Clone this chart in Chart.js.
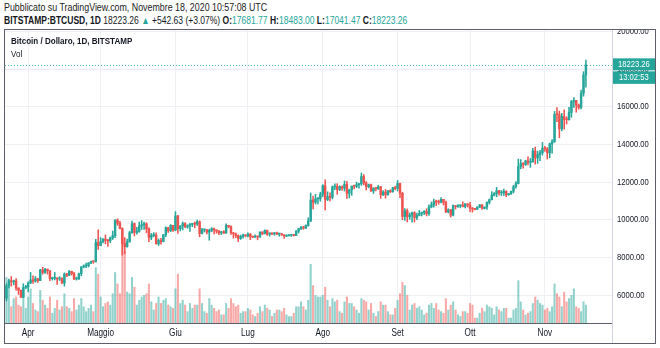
<!DOCTYPE html>
<html>
<head>
<meta charset="utf-8">
<title>BTCUSD 1D</title>
<script src="https://cdn.jsdelivr.net/npm/chart.js@4.4.0/dist/chart.umd.min.js"></script>
<style>
  body {
    margin: 0; width: 660px; height: 348px; background: #fff;
    position: relative; overflow: hidden; color: #131722;
    font-family: 'Liberation Sans', Arial, sans-serif;
  }
  /* narrow lettering, like the terminal font */
  .narrow { position: absolute; white-space: nowrap; transform: scaleX(0.82); transform-origin: 0 0; }
  .head1 { left: 4px; top: 1px; font-size: 10.8px; color: #222; }
  .head2 { left: 4px; top: 15px; font-size: 10.4px; }
  .up { color: #26a69a; }
  #frame { position: absolute; left: 4px; top: 29px; width: 650px; height: 313px; border: 1px solid #5d606b; }
  #wrap { position: absolute; left: 5px; top: 30px; width: 650px; height: 313px; }
  .sep { position: absolute; left: 612px; top: 30px; width: 1px; height: 313px; background: #d1d4dc; }
  .title { left: 11px; top: 35px; font-size: 9.8px; font-weight: bold; z-index: 2; }
  .vol { left: 11px; top: 48px; font-size: 9.8px; z-index: 2; }
</style>
</head>
<body>
<div class="narrow head1">Pubblicato su TradingView.com, Novembre 18, 2020 10:57:08 UTC</div>
<div class="narrow head2"><b>BITSTAMP:BTCUSD, 1D</b> 18223.26 <span class="up">&#9650;</span> +542.63 (+3.07%) <b>O:</b><span class="up">17681.77</span> <b>H:</b><span class="up">18483.00</span> <b>L:</b><span class="up">17041.47</span> <b>C:</b><span class="up">18223.26</span></div>
<div id="frame"></div>
<div id="wrap"><canvas id="btc-chart" width="650" height="313"></canvas></div>
<div class="sep"></div>
<div class="narrow title">Bitcoin / Dollaro, 1D, BITSTAMP</div>
<div class="narrow vol">Vol</div>

<script>
// first candle is 23 Mar, days counted from 1 Apr
const firstDay = -9;

const opens = [
  5830, 6480, 6760, 6700, 6750, 6370, 6250, 5880, 6400,
  6420, 6640, 6800, 6740, 6860, 6770, 7330, 7200, 7370, 7290, 6870, 6890, 6910, 6850, 6860, 6630, 7110, 7040, 7260, 7130, 6850, 6850, 7130, 7500, 7540, 7550, 7700, 7780, 7770, 8790,
  8620, 8830, 8970, 8900, 8880, 9030, 9150, 9980, 9810, 9540, 8730, 8570, 8820, 9310, 9790, 9320, 9380, 9670, 9730, 9780, 9510, 9060, 9170, 9180, 8720, 8900, 8840, 9200, 9570, 9420, 9700,
  9450, 10200, 9520, 9660, 9790, 9620, 9670, 9750, 9780, 9770, 9890, 9270, 9460, 9470, 9340, 9430, 9520, 9450, 9390, 9300, 9360, 9290, 9690, 9630, 9300, 9250, 9160, 9000, 9110, 9190,
  9140, 9230, 9090, 9070, 9130, 9080, 9340, 9250, 9430, 9230, 9290, 9240, 9300, 9240, 9250, 9190, 9130, 9150, 9170, 9210, 9160, 9390, 9530, 9610, 9550, 9700, 9930, 11040, 10930, 11100, 11110,
  11350, 11800, 11070, 11230, 11190, 11740, 11770, 11600, 11760, 11680, 11880, 11400, 11580, 11780, 11770, 11860, 11910, 12290, 11960, 11750, 11860, 11520, 11680, 11650, 11750, 11330, 11470, 11320, 11540, 11480, 11700,
  11660, 11920, 11400, 10170, 10470, 10160, 10250, 10370, 10120, 10230, 10340, 10390, 10440, 10320, 10680, 10790, 10950, 10940, 10930, 11080, 10920, 10420, 10530, 10240, 10740, 10690, 10730, 10770, 10700, 10840,
  10780, 10620, 10570, 10550, 10670, 10790, 10600, 10670, 10920, 11060, 11300, 11380, 11540, 11420, 11430, 11500, 11320, 11370, 11510, 11750, 11920, 12820, 12980, 12930, 13120, 13040, 13070, 13650, 13280, 13460, 13560,
  13800, 13760, 13550, 14030, 14150, 15590, 15580, 14830, 15480, 15330, 15310, 15700, 16280, 16330, 16080, 15960, 16720, 17681.77
];
const highs = [
  6600, 6840, 6980, 6790, 6870, 6380, 6260, 6600, 6520,
  6700, 7200, 7020, 6980, 6880, 7370, 7470, 7420, 7380, 7300, 6950, 7200, 6910, 6980, 6930, 7180, 7150, 7300, 7260, 7210, 6950, 7160, 7500, 7600, 7700, 7720, 7800, 7800, 8960, 9460,
  9050, 9000, 9190, 8950, 9080, 9400, 9990, 10050, 9910, 9570, 9050, 8970, 9380, 9930, 9830, 9590, 9880, 9950, 9870, 9840, 9570, 9270, 9310, 9300, 8980, 9010, 9210, 9620, 9600, 9740, 9700,
  10430, 10230, 9690, 9880, 9850, 9730, 9800, 9800, 9880, 9980, 9940, 9540, 9500, 9480, 9500, 9580, 9550, 9470, 9440, 9390, 9420, 9780, 9700, 9670, 9330, 9290, 9190, 9180, 9230, 9200,
  9300, 9270, 9130, 9190, 9140, 9360, 9370, 9460, 9450, 9310, 9300, 9330, 9340, 9280, 9270, 9210, 9190, 9190, 9230, 9220, 9420, 9540, 9640, 9650, 9730, 10100, 11420, 11260, 11350, 11170, 11460,
  11860, 12120, 11480, 11420, 11790, 11900, 11910, 11800, 11800, 12060, 12040, 11620, 11790, 11840, 11990, 11930, 12480, 12400, 12020, 11890, 11890, 11690, 11710, 11820, 11770, 11540, 11600, 11550, 11590, 11720, 11780,
  12080, 11950, 11460, 10590, 10570, 10350, 10400, 10420, 10350, 10500, 10410, 10480, 10580, 10790, 10940, 11100, 11040, 11040, 11180, 11080, 10990, 10580, 10540, 10790, 10760, 10800, 10800, 10950, 10860, 10850,
  10920, 10650, 10600, 10690, 10800, 10800, 10680, 10950, 11100, 11490, 11440, 11720, 11560, 11550, 11630, 11540, 11400, 11520, 11820, 12030, 13220, 13190, 13030, 13160, 13340, 13250, 13790, 13860, 13640, 13680, 14100,
  13900, 13830, 14070, 14250, 15750, 15960, 15770, 15650, 15840, 15470, 15970, 16340, 16480, 16340, 16140, 16880, 17860, 18483
];
const lows = [
  5690, 6380, 6470, 6540, 6260, 6030, 5870, 5860, 6330,
  6160, 6600, 6610, 6680, 6670, 6770, 7100, 7150, 7110, 6760, 6790, 6800, 6560, 6770, 6620, 6470, 6980, 7030, 7060, 6810, 6790, 6830, 7020, 7440, 7450, 7490, 7660, 7680, 7740, 8420,
  8620, 8770, 8720, 8580, 8780, 8950, 9050, 9700, 9510, 8120, 8200, 8540, 8810, 9270, 9140, 9230, 9330, 9480, 9480, 9300, 8830, 8940, 9090, 8700, 8630, 8700, 8820, 9100, 9330, 9360, 9380,
  9410, 9270, 9400, 9460, 9580, 9540, 9380, 9630, 9570, 9700, 9090, 9240, 9350, 9250, 8910, 9360, 9240, 9280, 9200, 9210, 9270, 9280, 9570, 9220, 9020, 9040, 8840, 8950, 9020, 9090,
  9090, 8940, 9040, 9060, 8930, 9060, 9200, 9240, 9160, 9120, 9200, 9170, 9200, 9120, 9170, 9010, 9100, 9120, 9110, 9130, 9150, 9290, 9470, 9490, 9520, 9650, 9900, 10570, 10830, 10840, 10980,
  11220, 10520, 11010, 11000, 11100, 11590, 11350, 11540, 11560, 11520, 11130, 11160, 11290, 11630, 11700, 11680, 11820, 11850, 11580, 11690, 11500, 11390, 11530, 11600, 11130, 11270, 11140, 11300, 11440, 11460, 11580,
  11520, 11170, 10000, 9960, 9880, 10020, 9870, 9880, 10000, 10200, 10200, 10270, 10200, 10220, 10630, 10670, 10740, 10820, 10890, 10780, 10370, 10360, 10140, 10200, 10560, 10650, 10630, 10680, 10630, 10670,
  10430, 10400, 10520, 10540, 10630, 10540, 10570, 10540, 10830, 11050, 11260, 11220, 11300, 11280, 11290, 11220, 11300, 11340, 11420, 11680, 11900, 12700, 12740, 12880, 12910, 12780, 13060, 12950, 12990, 13130, 13430,
  13620, 13220, 13290, 13530, 14100, 15200, 14350, 14720, 14810, 15080, 15290, 15440, 15960, 15710, 15870, 15880, 16560, 17041.47
];
const closes = [
  6480, 6760, 6700, 6750, 6370, 6250, 5880, 6400, 6420,
  6640, 6800, 6740, 6860, 6770, 7330, 7200, 7370, 7290, 6870, 6890, 6910, 6850, 6860, 6630, 7110, 7040, 7260, 7130, 6850, 6850, 7130, 7500, 7540, 7550, 7700, 7780, 7770, 8790, 8620,
  8830, 8970, 8900, 8880, 9030, 9150, 9980, 9810, 9540, 8730, 8570, 8820, 9310, 9790, 9320, 9380, 9670, 9730, 9780, 9510, 9060, 9170, 9180, 8720, 8900, 8840, 9200, 9570, 9420, 9700, 9450,
  10200, 9520, 9660, 9790, 9620, 9670, 9750, 9780, 9770, 9890, 9270, 9460, 9470, 9340, 9430, 9520, 9450, 9390, 9300, 9360, 9290, 9690, 9630, 9300, 9250, 9160, 9000, 9110, 9190, 9140,
  9230, 9090, 9070, 9130, 9080, 9340, 9250, 9430, 9230, 9290, 9240, 9300, 9240, 9250, 9190, 9130, 9150, 9170, 9210, 9160, 9390, 9530, 9610, 9550, 9700, 9930, 11040, 10930, 11100, 11110, 11350,
  11800, 11070, 11230, 11190, 11740, 11770, 11600, 11760, 11680, 11880, 11400, 11580, 11780, 11770, 11860, 11910, 12290, 11960, 11750, 11860, 11520, 11680, 11650, 11750, 11330, 11470, 11320, 11540, 11480, 11700, 11660,
  11920, 11400, 10170, 10470, 10160, 10250, 10370, 10120, 10230, 10340, 10390, 10440, 10320, 10680, 10790, 10950, 10940, 10930, 11080, 10920, 10420, 10530, 10240, 10740, 10690, 10730, 10770, 10700, 10840, 10780,
  10620, 10570, 10550, 10670, 10790, 10600, 10670, 10920, 11060, 11300, 11380, 11540, 11420, 11430, 11500, 11320, 11370, 11510, 11750, 11920, 12820, 12980, 12930, 13120, 13040, 13070, 13650, 13280, 13460, 13560, 13800,
  13760, 13550, 14030, 14150, 15590, 15580, 14830, 15480, 15330, 15310, 15700, 16280, 16330, 16080, 15960, 16720, 17681.77, 18223.26
];
// volume, thousand BTC
const volumes = [
  14, 11, 5, 7.5, 8, 5.5, 5, 10, 4.5,
  8, 10.5, 6, 4, 3.5, 10, 7, 5.5, 4.5, 8, 3, 4.5, 7, 4, 5, 9, 5, 4.5, 3.5, 7.5, 4, 5.5, 7.5, 5, 3.5, 4.5, 5.5, 3.5, 17, 15,
  8, 5, 6, 6.5, 5.5, 9, 15.5, 12, 9, 26, 22, 9.5, 9, 14, 11, 5.5, 7, 8, 8.5, 9, 12, 6.5, 4, 6, 8, 6, 7, 7.5, 5.5, 5, 4.5,
  10.5, 15, 6, 7, 5.5, 3.5, 6, 4.5, 5.5, 5.5, 10.5, 6, 3.5, 3, 7.5, 5.5, 4.5, 3.5, 4, 2.5, 2.5, 6, 4.5, 7.5, 6, 5, 5.5, 3, 3.5, 3.5,
  4.5, 4, 2.5, 2, 3, 5, 3.5, 5.5, 4.5, 4, 2, 3, 4, 4, 3.5, 4.5, 2.5, 2, 2, 3, 5, 5, 6.5, 5, 4, 7, 18, 11.5, 8.5, 8, 8,
  8.5, 11, 7, 5, 7.5, 6.5, 7, 3.5, 3, 6.5, 8, 6, 6, 5, 4, 3, 7.5, 7, 6.5, 4, 6, 3, 2, 3.5, 6.5, 5.5, 5.5, 3.5, 2.5, 2.5, 4.5,
  7, 9, 12.5, 11.5, 8.5, 4, 5.5, 6, 4.5, 5, 4, 2.5, 3, 5.5, 6, 4.5, 6, 4, 3.5, 3, 7.5, 4, 5.5, 6.5, 4, 2.5, 2, 3.5, 3.5, 3,
  6, 5.5, 1.5, 1.5, 3, 4.5, 3.5, 5.5, 5, 4.5, 2.5, 5, 4, 3.5, 4.5, 4.5, 1.5, 1.5, 4, 4.5, 13, 6.5, 4, 2.5, 3, 3.5, 6, 8, 7, 6, 5.5,
  4, 4.5, 3.5, 5, 12, 9, 8, 5, 9.5, 6.5, 7.5, 8.5, 10.5, 5, 4.5, 3.5, 6.5, 5.5
];

const monthStarts = [0, 30, 61, 91, 122, 153, 183, 214];
const monthNames = ['Apr', 'Maggio', 'Giu', 'Lug', 'Ago', 'Set', 'Ott', 'Nov'];
const priceTicks = [6000, 8000, 10000, 12000, 14000, 16000, 18000, 20000];
const lastPrice = 18223.26;
const countdown = '13:02:53';

const upColor = '#26a69a';
const downColor = '#ef5350';
const upVol = 'rgba(38,166,154,0.5)';
const downVol = 'rgba(239,83,80,0.5)';
const fontFamily = "'Liberation Sans', Arial, sans-serif";

const isUp = closes.map((c, i) => c >= opens[i]);
const candleColors = isUp.map(u => u ? upColor : downColor);
const volColors = isUp.map(u => u ? upVol : downVol);

const wickData = highs.map((h, i) => ({ x: firstDay + i, y: [lows[i], h] }));
const bodyData = closes.map((c, i) => ({ x: firstDay + i, y: [opens[i], c] }));
const volData = volumes.map((v, i) => ({ x: firstDay + i, y: v }));

// dotted last-price line and the price / countdown tags on the axis
const lastPriceTag = {
  id: 'lastPriceTag',
  afterDraw(chart) {
    const { ctx, chartArea, scales } = chart;
    const y = scales.y.getPixelForValue(lastPrice);
    const ly = Math.round(y) + 0.5;
    ctx.save();
    ctx.strokeStyle = 'rgba(38,166,154,0.8)';
    ctx.lineWidth = 1;
    ctx.setLineDash([1, 2]);
    ctx.beginPath();
    ctx.moveTo(chartArea.left, ly);
    ctx.lineTo(chartArea.right, ly);
    ctx.stroke();
    ctx.setLineDash([]);

    const x0 = chartArea.right + 1;
    const w = chart.width - x0;
    ctx.fillStyle = upColor;
    ctx.fillRect(x0, y - 6.5, w, 12);
    ctx.fillRect(x0, y + 6.5, w, 12.5);
    ctx.fillStyle = '#fff';
    ctx.font = '9.3px ' + fontFamily;
    ctx.textAlign = 'left';
    ctx.textBaseline = 'middle';
    ctx.fillText(lastPrice.toFixed(2), x0 + 5, y);
    ctx.fillText(countdown, x0 + 6, y + 13);
    ctx.restore();
  }
};

Chart.defaults.font.family = fontFamily;

const canvas = document.getElementById('btc-chart');

// squeeze every canvas label horizontally around its anchor point
const c2d = canvas.getContext('2d');
const plainFillText = c2d.fillText.bind(c2d);
c2d.fillText = (text, x, y) => {
  c2d.save();
  c2d.translate(x, y);
  c2d.scale(0.82, 1);
  plainFillText(text, 0, 0);
  c2d.restore();
};

const chart = new Chart(canvas, {
  type: 'bar',
  data: {
    datasets: [
      {
        label: 'Vol',
        data: volData,
        yAxisID: 'vol',
        backgroundColor: volColors,
        barThickness: 1.4,
        order: 3
      },
      {
        label: 'wick',
        data: wickData,
        backgroundColor: candleColors,
        barThickness: 0.9,
        order: 2
      },
      {
        label: 'BTCUSD',
        data: bodyData,
        backgroundColor: candleColors,
        barThickness: 1.8,
        minBarLength: 1,
        order: 1
      }
    ]
  },
  options: {
    responsive: false,
    animation: false,
    events: [],
    layout: { padding: 0 },
    datasets: { bar: { grouped: false } },
    plugins: {
      legend: { display: false },
      tooltip: { enabled: false }
    },
    scales: {
      x: {
        type: 'linear',
        min: -9.6,
        max: 241.8,
        offset: false,
        grid: { color: '#eef0f4', drawTicks: false, offset: false },
        border: { display: true, color: '#5d606b' },
        afterBuildTicks: scale => { scale.ticks = monthStarts.map(v => ({ value: v })); },
        afterFit: scale => {
          scale.height = 20;
          scale.paddingLeft = 0;
          scale.paddingRight = 0;
        },
        ticks: {
          autoSkip: false,
          maxRotation: 0,
          padding: 4,
          color: '#131722',
          font: { size: 10 },
          callback: v => monthNames[monthStarts.indexOf(v)]
        }
      },
      y: {
        position: 'right',
        min: 4513,
        max: 20074,
        grid: { color: '#eef0f4', drawTicks: false },
        border: { display: false },
        afterBuildTicks: scale => { scale.ticks = priceTicks.map(v => ({ value: v })); },
        afterFit: scale => {
          scale.width = 43;
          scale.paddingTop = 0;
          scale.paddingBottom = 0;
        },
        ticks: {
          padding: 5,
          color: '#131722',
          font: { size: 9.3 },
          callback: v => v.toFixed(2)
        }
      },
      vol: {
        display: false,
        min: 0,
        max: 90
      }
    }
  },
  plugins: [lastPriceTag]
});
</script>
</body>
</html>
